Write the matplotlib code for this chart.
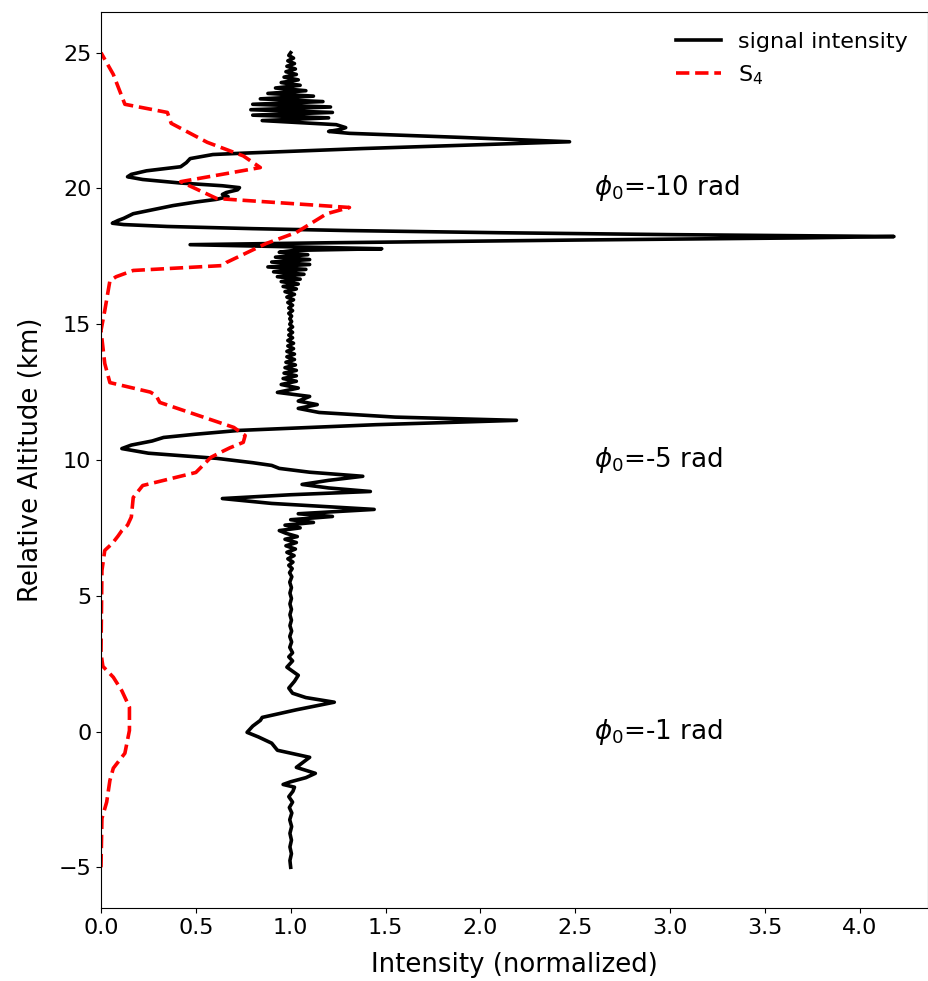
"""
Signal intensity and S4 index versus relative altitude
"""

import matplotlib
matplotlib.use('Agg')
import matplotlib.pyplot as plt

# Signal intensity (normalized), bottom to top
alt_signal = [
    # -5 .. 2.6 km
    -5.0, -4.75, -4.5, -4.25, -4.0, -3.75, -3.5, -3.25, -3.0, -2.8, -2.6, -2.4,
    -2.2, -2.05, -1.95, -1.85, -1.7, -1.54, -1.32, -0.95, -0.69, -0.43, -0.2,
    -0.03, 0.2, 0.41, 0.52, 0.8, 1.08, 1.25, 1.41, 1.6, 1.85, 2.07, 2.37, 2.6,
    # 2.6 .. 8.2 km
    2.75, 2.9, 3.1, 3.3, 3.5, 3.7, 3.9, 4.1, 4.3, 4.5, 4.7, 4.9, 5.1, 5.3, 5.5,
    5.7, 5.85, 6.0, 6.12, 6.24, 6.36, 6.48, 6.6, 6.72, 6.84, 6.96, 7.08, 7.18,
    7.3, 7.4, 7.5, 7.6, 7.7, 7.8, 7.92, 8.02, 8.18,
    # 8.2 .. 11.5 km
    8.4, 8.58, 8.72, 8.84, 8.97, 9.1, 9.25, 9.4, 9.55, 9.69, 9.8, 9.9, 10.06,
    10.25, 10.42, 10.55, 10.7, 10.83, 10.95, 11.09, 11.3, 11.46,
    # 11.5 .. 15.3 km
    11.58, 11.75, 11.9, 12.04, 12.17, 12.34, 12.49, 12.65, 12.78, 12.9, 13.0,
    13.1, 13.2, 13.3, 13.4, 13.5, 13.6, 13.7, 13.8, 13.9, 14.0, 14.1, 14.2,
    14.3, 14.4, 14.5, 14.6, 14.7, 14.8, 14.9, 15.0, 15.1, 15.2, 15.3,
    # 15.3 .. 17.9 km
    15.4, 15.5, 15.6, 15.7, 15.8, 15.9, 16.0, 16.1, 16.2, 16.3, 16.39, 16.48,
    16.57, 16.66, 16.75, 16.84, 16.93, 17.02, 17.11, 17.2, 17.29, 17.38, 17.47,
    17.56, 17.65, 17.72, 17.78, 17.93,
    # big peak 17.9 .. 19 km
    18.0, 18.1, 18.18, 18.23, 18.3, 18.37, 18.45, 18.52, 18.6, 18.67, 18.72,
    18.82, 18.9, 19.07,
    # 19 .. 21.7 km
    19.2, 19.37, 19.5, 19.6, 19.7, 19.78, 19.85, 19.95, 20.03, 20.1, 20.2,
    20.33, 20.43, 20.52, 20.65, 20.8, 20.95, 21.1, 21.25, 21.3, 21.47, 21.6,
    21.72,
    # 21.7 .. 25 km
    21.88, 22.03, 22.1, 22.17, 22.24, 22.35, 22.5, 22.6, 22.7, 22.8, 22.9,
    23.0, 23.1, 23.2, 23.3, 23.4, 23.5, 23.6, 23.7, 23.8, 23.9, 24.0, 24.1,
    24.2, 24.3, 24.4, 24.5, 24.6, 24.7, 24.8, 24.9, 25.0,
]
signal = [
    1.0, 0.996, 1.004, 0.996, 1.004, 0.996, 1.005, 0.995, 1.006, 0.993, 1.01,
    0.99, 1.012, 1.02, 0.96, 1.0, 1.08, 1.13, 1.03, 1.10, 0.93, 0.90, 0.83,
    0.77, 0.80, 0.84, 0.85, 1.03, 1.23, 1.08, 1.01, 0.99, 1.02, 1.04, 0.98, 1.01,
    0.99, 1.01, 0.995, 1.005, 0.995, 1.005, 0.996, 1.004, 0.996, 1.004, 0.996,
    1.004, 0.996, 1.004, 0.995, 1.006, 0.994, 1.008, 0.99, 1.012, 0.985, 1.018,
    0.98, 1.025, 0.975, 1.03, 0.97, 1.035, 0.975, 0.94, 1.05, 0.97, 1.12, 1.0,
    1.22, 1.04, 1.44,
    0.9, 0.64, 1.0, 1.42, 1.2, 1.06, 1.2, 1.38, 1.1, 0.94, 0.90, 0.80, 0.61,
    0.25, 0.11, 0.16, 0.27, 0.33, 0.5, 0.73, 1.45, 2.19,
    1.55, 1.15, 1.04, 1.14, 1.04, 1.10, 0.93, 1.04, 0.95, 1.03, 0.96, 1.03,
    0.965, 1.03, 0.97, 1.025, 0.975, 1.02, 0.98, 1.02, 0.98, 1.015, 0.985,
    1.015, 0.985, 1.01, 0.99, 1.01, 0.99, 1.01, 0.995, 1.005, 0.995, 1.005,
    0.99, 1.01, 0.99, 1.01, 0.985, 1.015, 0.98, 1.02, 0.97, 1.03, 0.96, 1.04,
    0.95, 1.05, 0.93, 1.07, 0.91, 1.08, 0.88, 1.10, 0.90, 1.10, 0.92, 1.09,
    0.94, 1.02, 1.48, 0.47,
    1.2, 2.5, 3.7, 4.18, 3.0, 2.1, 1.3, 0.8, 0.35, 0.12, 0.06, 0.09, 0.12, 0.17,
    0.26, 0.38, 0.5, 0.61, 0.67, 0.64, 0.66, 0.72, 0.73, 0.64, 0.42, 0.22,
    0.14, 0.16, 0.24, 0.42, 0.45, 0.47, 0.59, 0.75, 1.38, 1.95, 2.47,
    1.9, 1.31, 1.2, 1.26, 1.29, 1.24, 0.85, 1.2, 0.8, 1.22, 0.79, 1.21, 0.8,
    1.17, 0.84, 1.12, 0.88, 1.08, 0.92, 1.05, 0.95, 1.04, 0.965, 1.03, 0.975,
    1.025, 0.98, 1.02, 0.985, 1.015, 0.99, 1.0,
]

# S4 index
alt_s4 = [
    -5.0, -3.2, -2.6, -1.8, -1.35, -0.8, 0.04, 0.9, 1.5, 2.0, 2.4, 2.88, 5.93,
    6.67, 6.93, 7.2, 7.4, 7.6, 7.9, 8.62, 9.06, 9.54, 10.1, 10.28, 10.45, 10.65,
    10.9, 11.2, 12.12, 12.38, 12.5, 12.85, 13.55, 14.77, 15.5, 16.6, 16.75,
    16.98, 17.16, 17.27, 17.97, 18.38, 19.07, 19.3, 19.63, 20.25, 20.77, 21.2,
    21.7, 22.4, 22.8, 23.1, 24.2, 25.0,
]
s4 = [
    0.0, 0.005, 0.03, 0.047, 0.065, 0.126, 0.15, 0.15, 0.11, 0.065, 0.01, 0.0,
    0.005, 0.02, 0.06, 0.09, 0.11, 0.14, 0.16, 0.17, 0.22, 0.50, 0.58, 0.63,
    0.68, 0.75, 0.76, 0.70, 0.31, 0.29, 0.26, 0.047, 0.02, 0.0, 0.02, 0.047,
    0.08, 0.17, 0.64, 0.66, 0.87, 1.03, 1.19, 1.31, 0.61, 0.42, 0.84, 0.75,
    0.56, 0.37, 0.35, 0.126, 0.065, 0.0,
]

# Phase labels
phase_labels = ['$\\phi_0$=-10 rad', '$\\phi_0$=-5 rad', '$\\phi_0$=-1 rad']
phase_alt = [20, 10, 0]

plt.figure(1, figsize=(9.29, 9.81), dpi=100)
ax = plt.axes([0.1087, 0.0744, 0.8903, 0.9134])
ax.plot(signal, alt_signal, color='black', linewidth=2.6, label='signal intensity')
ax.plot(s4, alt_s4, color='red', linestyle='--', linewidth=2.6, label='S$_4$')
for label, a in zip(phase_labels, phase_alt):
    ax.text(2.6, a, label, fontsize=18.8, va='center', ha='left')
ax.set_xlim(0, 4.36)
ax.set_ylim(-6.5, 26.5)
ax.set_xticks([0.0, 0.5, 1.0, 1.5, 2.0, 2.5, 3.0, 3.5, 4.0])
ax.set_yticks([-5, 0, 5, 10, 15, 20, 25])
ax.tick_params(labelsize=16)
ax.set_xlabel('Intensity (normalized)', fontsize=18.7, labelpad=10)
ax.set_ylabel('Relative Altitude (km)', fontsize=18.7, labelpad=10)
ax.legend(loc='upper right', frameon=False, fontsize=16)
plt.savefig('out.png', dpi=100)
plt.close(1)
